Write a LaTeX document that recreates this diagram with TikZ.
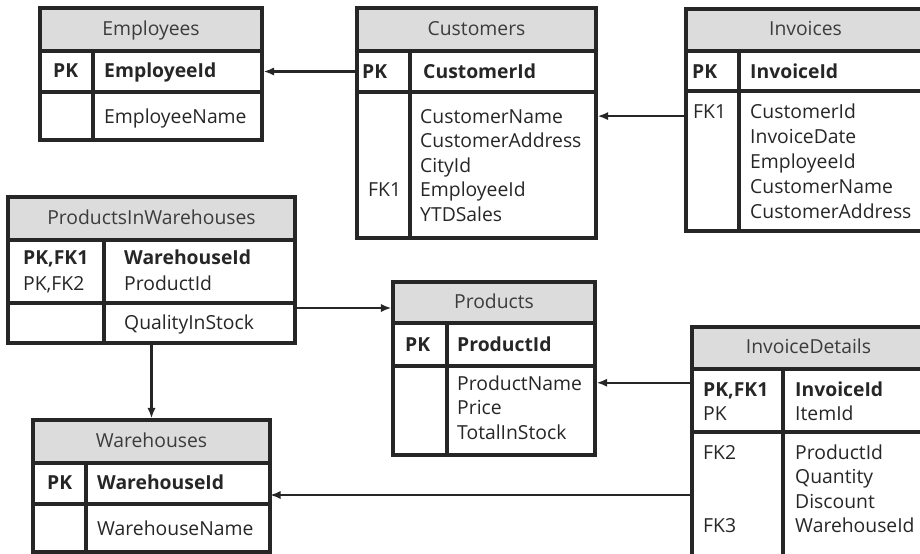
\documentclass[tikz,border=0pt]{standalone}
\usepackage{fontspec}
\setmainfont{Open Sans}
\usetikzlibrary{arrows.meta,fit}

\definecolor{hdrgray}{HTML}{DCDCDC}
\definecolor{ink}{HTML}{262626}
\newcommand{\erfont}{\fontsize{16.5}{21}\selectfont}

\tikzset{
  tbl/.style={draw=ink, line width=2.6pt, inner sep=0pt},
  hdr/.style={tbl, fill=hdrgray},
  ttl/.style={anchor=base, yshift=-5pt, inner sep=0pt, text=ink!90, font=\erfont},
  fld/.style={anchor=base west, inner sep=0pt, text=ink, font=\erfont},
  key/.style={fld, font=\erfont\bfseries},
  fk/.style={draw=ink, line width=2pt, -{Latex[length=9pt,width=7pt]}}
}

\begin{document}
\begin{tikzpicture}[x=0.03cm,y=-0.03cm]
  \clip (0,0) rectangle (920,553);

  % Employees
  \node[hdr,fit={(40,8) (262,51)}] (emp) {};
  \node[ttl] (emp-t) at (emp.center) {Employees};
  \node[tbl,fit={(40,51) (262,92)}] (emp-k) {};
  \node[tbl,fit={(40,92) (262,140)}] (emp-a) {};
  \draw[tbl] (93,51) -- (93,140);
  \node[key] (emp-pk) at (53,77) {PK};
  \node[key] (emp-id) at (104,77) {EmployeeId};
  \node[fld] (emp-n1) at (104,123) {EmployeeName};

  % Customers
  \node[hdr,fit={(357,8) (596,51)}] (cust) {};
  \node[ttl] (cust-t) at (cust.center) {Customers};
  \node[tbl,fit={(357,51) (596,92)}] (cust-k) {};
  \node[tbl,fit={(357,92) (596,238)}] (cust-a) {};
  \draw[tbl] (410,51) -- (410,238);
  \node[key] (cust-pk) at (362,78) {PK};
  \node[key] (cust-id) at (423,78) {CustomerId};
  \foreach \t [count=\i] in {CustomerName,CustomerAddress,CityId,EmployeeId,YTDSales}
    \node[fld] (cust-n\i) at (420,{123+24.5*(\i-1)}) {\t};
  \node[fld] (cust-fk1) at (368,196.5) {FK1};

  % Invoices
  \node[hdr,fit={(686,9) (925,51)}] (inv) {};
  \node[ttl] (inv-t) at (inv.center) {Invoices};
  \node[tbl,fit={(686,51) (925,91)}] (inv-k) {};
  \node[tbl,fit={(686,91) (925,231)}] (inv-a) {};
  \draw[tbl] (739,51) -- (739,231);
  \node[key] (inv-pk) at (692,78) {PK};
  \node[key] (inv-id) at (750,78) {InvoiceId};
  \foreach \t [count=\i] in {CustomerId,InvoiceDate,EmployeeId,CustomerName,CustomerAddress}
    \node[fld] (inv-n\i) at (750,{118+25*(\i-1)}) {\t};
  \node[fld] (inv-fk1) at (693,118) {FK1};

  % ProductsInWarehouses
  \node[hdr,fit={(8,197) (295,240)}] (piw) {};
  \node[ttl] (piw-t) at (piw.center) {ProductsInWarehouses};
  \node[tbl,fit={(8,240) (295,303)}] (piw-k) {};
  \node[tbl,fit={(8,303) (295,343)}] (piw-a) {};
  \draw[tbl] (104,240) -- (104,343);
  \node[key] (piw-pk1) at (23,264) {PK,FK1};
  \node[fld] (piw-pk2) at (23,290) {PK,FK2};
  \node[key] (piw-id1) at (124,264) {WarehouseId};
  \node[fld] (piw-id2) at (124,290) {ProductId};
  \node[fld] (piw-n1) at (124,329) {QualityInStock};

  % Products
  \node[hdr,fit={(393,282) (595,323)}] (prod) {};
  \node[ttl] (prod-t) at (prod.center) {Products};
  \node[tbl,fit={(393,323) (595,366)}] (prod-k) {};
  \node[tbl,fit={(393,366) (595,455)}] (prod-a) {};
  \draw[tbl] (447,323) -- (447,455);
  \node[key] (prod-pk) at (405,351) {PK};
  \node[key] (prod-id) at (457,351) {ProductId};
  \foreach \t [count=\i] in {ProductName,Price,TotalInStock}
    \node[fld] (prod-n\i) at (457,{390+24.5*(\i-1)}) {\t};

  % InvoiceDetails
  \node[hdr,fit={(692,327) (925,369)}] (id) {};
  \node[ttl] (id-t) at (id.center) {InvoiceDetails};
  \node[tbl,fit={(692,369) (925,432)}] (id-k) {};
  \node[tbl,fit={(692,432) (925,560)}] (id-a) {};
  \draw[tbl] (783,369) -- (783,560);
  \node[key] (id-pk1) at (703,396) {PK,FK1};
  \node[fld] (id-pk2) at (703,420) {PK};
  \node[key] (id-id1) at (795,396) {InvoiceId};
  \node[fld] (id-id2) at (795,420) {ItemId};
  \foreach \t [count=\i] in {ProductId,Quantity,Discount,WarehouseId}
    \node[fld] (id-n\i) at (795,{459+24.5*(\i-1)}) {\t};
  \node[fld] (id-fk2) at (703,459) {FK2};
  \node[fld] (id-fk3) at (703,532.5) {FK3};

  % Warehouses
  \node[hdr,fit={(33,420) (270,463)}] (wh) {};
  \node[ttl] (wh-t) at (wh.center) {Warehouses};
  \node[tbl,fit={(33,463) (270,504)}] (wh-k) {};
  \node[tbl,fit={(33,504) (270,552)}] (wh-a) {};
  \draw[tbl] (86,463) -- (86,552);
  \node[key] (wh-pk) at (47,489) {PK};
  \node[key] (wh-id) at (97,489) {WarehouseId};
  \node[fld] (wh-n1) at (97,535) {WarehouseName};

  % relations
  \coordinate (piw-out) at (295,308);
  \coordinate (wh-in) at (270,495);
  \draw[fk] (cust-k.west) -- (emp-k.east);
  \draw[fk] (inv-a.west |- cust-n1) -- (cust-a.east |- cust-n1);
  \draw[fk] (piw-out) -- (piw-out -| prod.west);
  \draw[fk] (piw-a.south -| wh.north) -- (wh.north);
  \draw[fk] (id-k.west |- prod-n1) -- (prod-a.east |- prod-n1);
  \draw[fk] (id-a.west |- wh-in) -- (wh-in);
\end{tikzpicture}
\end{document}
